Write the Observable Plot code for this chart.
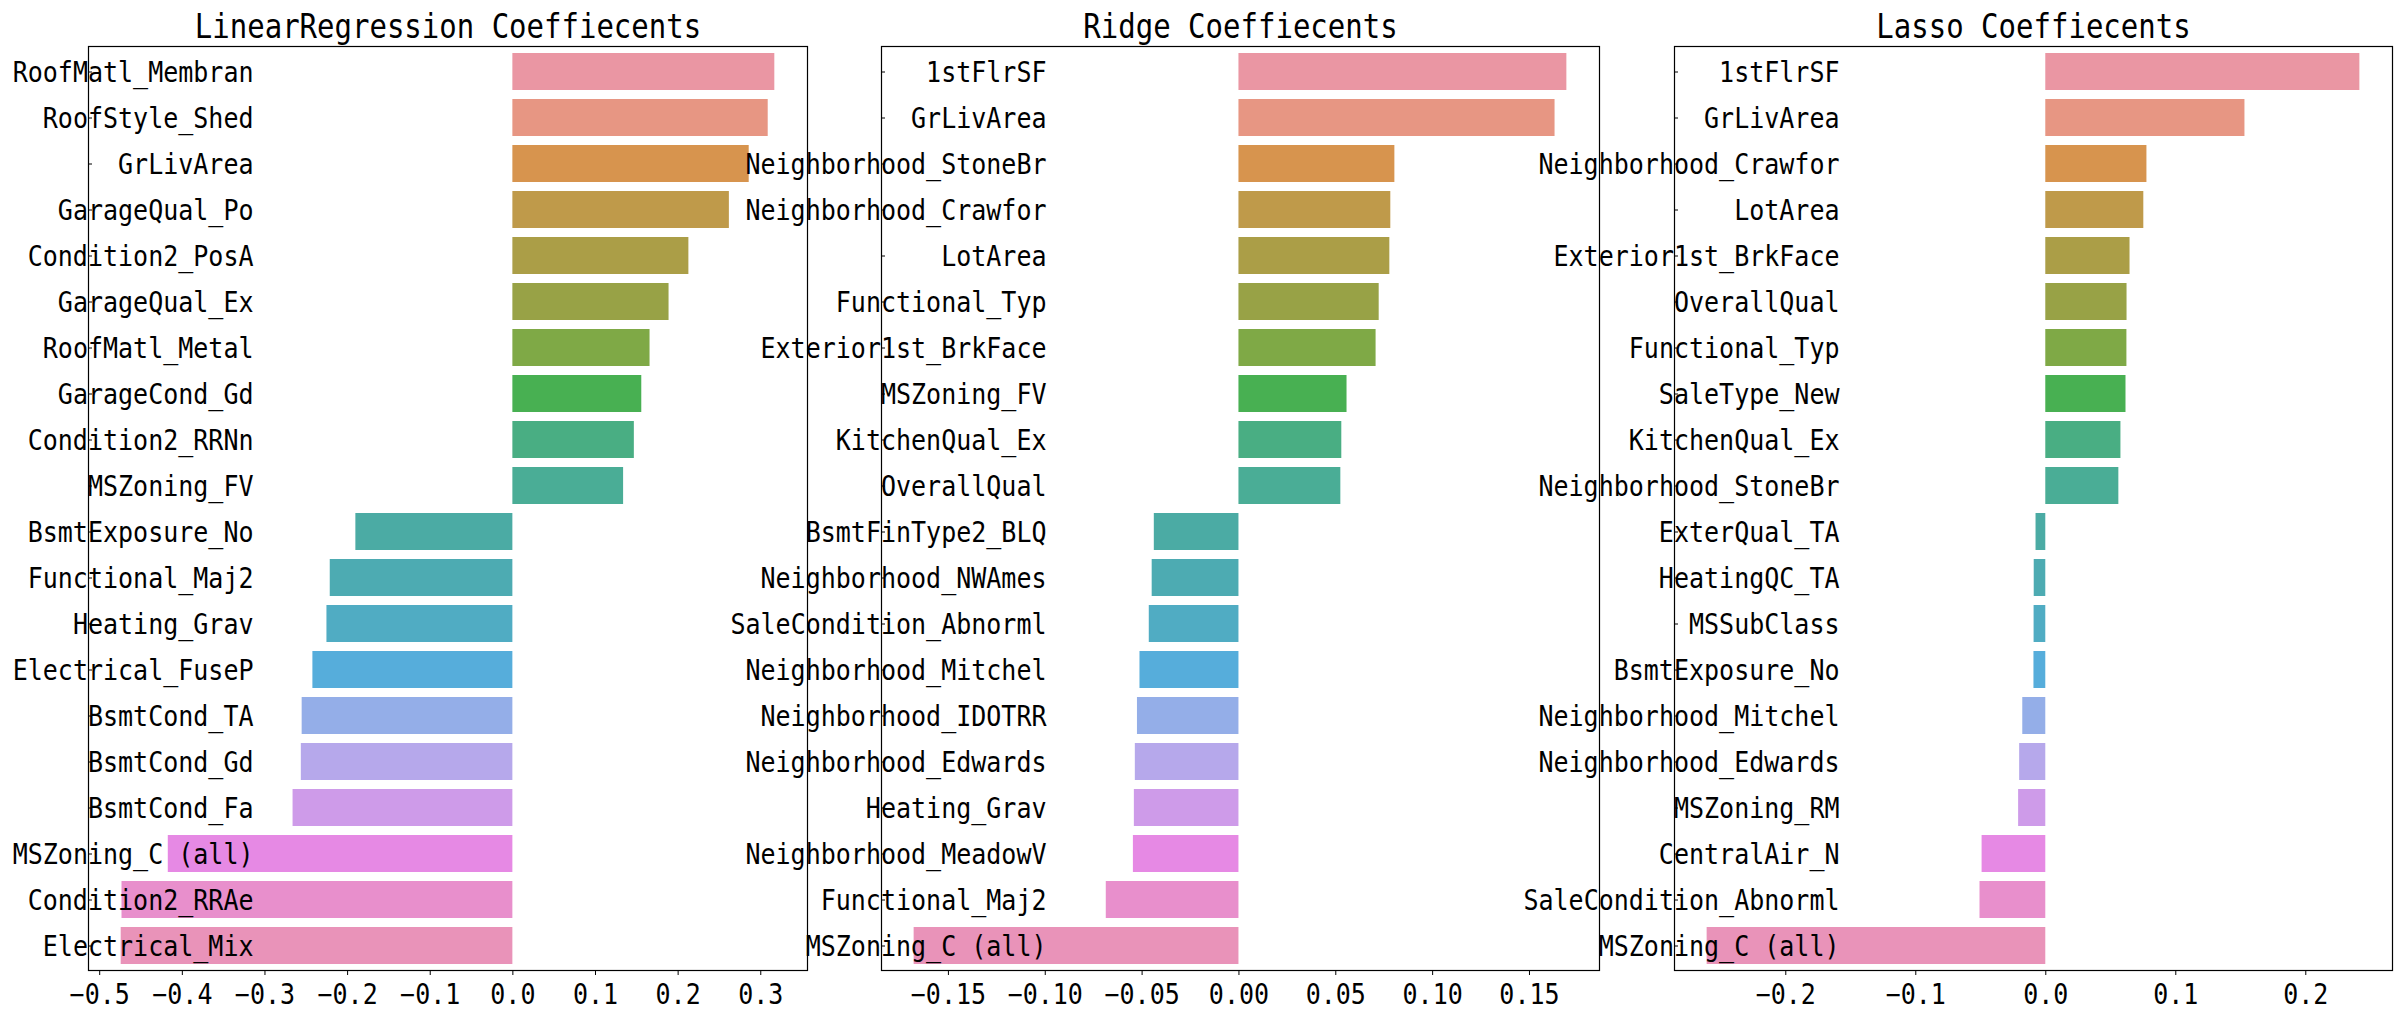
<!DOCTYPE html>
<html>
<head>
<meta charset="utf-8">
<script src="https://cdn.jsdelivr.net/npm/d3@7"></script>
<script src="https://cdn.jsdelivr.net/npm/@observablehq/plot@0.6"></script>
<style>
  body { margin: 0; background: #fff; }
  #wrap { position: relative; width: 2401px; height: 1018px; overflow: hidden; background: #fff; }
  #wrap svg { position: absolute; left: 0; top: 0; }
</style>
</head>
<body>
<div id="wrap"></div>
<script>
// ---------- data ----------
const lrTitle = "LinearRegression Coeffiecents";
const lrNames = ["RoofMatl_Membran","RoofStyle_Shed","GrLivArea","GarageQual_Po","Condition2_PosA",
  "GarageQual_Ex","RoofMatl_Metal","GarageCond_Gd","Condition2_RRNn","MSZoning_FV",
  "BsmtExposure_No","Functional_Maj2","Heating_Grav","Electrical_FuseP","BsmtCond_TA",
  "BsmtCond_Gd","BsmtCond_Fa","MSZoning_C (all)","Condition2_RRAe","Electrical_Mix"];
const lrValues = [0.317, 0.309, 0.286, 0.262, 0.213, 0.189, 0.166, 0.156, 0.147, 0.134,
  -0.190, -0.221, -0.225, -0.242, -0.255, -0.256, -0.266, -0.417, -0.473, -0.474];
const lrTicks = [-0.5, -0.4, -0.3, -0.2, -0.1, 0.0, 0.1, 0.2, 0.3];

const ridgeTitle = "Ridge Coeffiecents";
const ridgeNames = ["1stFlrSF","GrLivArea","Neighborhood_StoneBr","Neighborhood_Crawfor","LotArea",
  "Functional_Typ","Exterior1st_BrkFace","MSZoning_FV","KitchenQual_Ex","OverallQual",
  "BsmtFinType2_BLQ","Neighborhood_NWAmes","SaleCondition_Abnorml","Neighborhood_Mitchel","Neighborhood_IDOTRR",
  "Neighborhood_Edwards","Heating_Grav","Neighborhood_MeadowV","Functional_Maj2","MSZoning_C (all)"];
const ridgeValues = [0.1693, 0.1632, 0.0805, 0.0784, 0.0779, 0.0724, 0.0708, 0.0558, 0.0531, 0.0526,
  -0.0437, -0.0448, -0.0463, -0.0511, -0.0524, -0.0535, -0.0540, -0.0545, -0.0685, -0.1677];
const ridgeTicks = [-0.15, -0.10, -0.05, 0.00, 0.05, 0.10, 0.15];

const lassoTitle = "Lasso Coeffiecents";
const lassoNames = ["1stFlrSF","GrLivArea","Neighborhood_Crawfor","LotArea","Exterior1st_BrkFace",
  "OverallQual","Functional_Typ","SaleType_New","KitchenQual_Ex","Neighborhood_StoneBr",
  "ExterQual_TA","HeatingQC_TA","MSSubClass","BsmtExposure_No","Neighborhood_Mitchel",
  "Neighborhood_Edwards","MSZoning_RM","CentralAir_N","SaleCondition_Abnorml","MSZoning_C (all)"];
const lassoValues = [0.2416, 0.1532, 0.0778, 0.0754, 0.0648, 0.0625, 0.0624, 0.0617, 0.0578, 0.0562,
  -0.0075, -0.0089, -0.0090, -0.0091, -0.0177, -0.0201, -0.0209, -0.0490, -0.0506, -0.2605];
const lassoTicks = [-0.2, -0.1, 0.0, 0.1, 0.2];

// ---------- seaborn-like husl palette (l=.7), desaturated .75 ----------
function huslToRgb(H, S, L) {
  const m = [[3.2406, -1.5372, -0.4986], [-0.9689, 1.8758, 0.0415], [0.0557, -0.2040, 1.0570]];
  const refY = 1.0, refU = 0.19784, refV = 0.46834, kappa = 903.2963, eps = 0.0088564;
  function maxChroma(L, H) {
    const hr = H / 360 * 2 * Math.PI, sinH = Math.sin(hr), cosH = Math.cos(hr);
    const sub1 = Math.pow(L + 16, 3) / 1560896;
    const sub2 = sub1 > eps ? sub1 : L / kappa;
    let result = Infinity;
    for (const [m1, m2, m3] of m) {
      const top = (0.99915 * m1 + 1.05122 * m2 + 1.14460 * m3) * sub2;
      const rb = 0.86330 * m3 - 0.17266 * m2;
      const lb = 0.12949 * m3 - 0.38848 * m1;
      const bottom = (rb * sinH + lb * cosH) * sub2;
      for (const t of [0, 1]) {
        const C = L * (top - 1.05122 * t) / (bottom + 0.17266 * sinH * t);
        if (C > 0 && C < result) result = C;
      }
    }
    return result;
  }
  const C = maxChroma(L, H) / 100 * S;
  const hr = H / 360 * 2 * Math.PI;
  const U = C * Math.cos(hr), V = C * Math.sin(hr);
  const Yv = L > 8 ? refY * Math.pow((L + 16) / 116, 3) : refY * L / kappa;
  const varU = U / (13 * L) + refU, varV = V / (13 * L) + refV;
  const Y = Yv * refY;
  const X = -(9 * Y * varU) / ((varU - 4) * varV - varU * varV);
  const Z = (9 * Y - 15 * varV * Y - varV * X) / (3 * varV);
  return m.map(([a, b, c]) => {
    const v = a * X + b * Y + c * Z;
    const s = v <= 0.0031308 ? 12.92 * v : 1.055 * Math.pow(v, 1 / 2.4) - 0.055;
    return Math.min(1, Math.max(0, s));
  });
}
function palette(n) {
  const out = [];
  for (let i = 0; i < n; i++) {
    const h = ((i / n + 0.01) % 1) * 359;
    const [r, g, b] = huslToRgb(h, 0.9 * 99, 0.7 * 99);
    const c = d3.hsl(d3.rgb(r * 255, g * 255, b * 255));
    c.s *= 0.75;
    out.push(c.formatHex());
  }
  return out;
}
const colors = palette(20);

// ---------- drawing ----------
const W = 2401, H = 1018;
const FONT = "DejaVu Sans Mono";
function panel(title, names, values, ticks, fmt, left, right) {
  const rows = names.map((name, i) => ({name, value: values[i], color: colors[i]}));
  const lo = d3.min(values), hi = d3.max(values), pad = (hi - lo) * 0.05;
  const frameW = right - left;
  return Plot.plot({
    width: W, height: H,
    marginLeft: left, marginRight: W - right, marginTop: 46, marginBottom: 48,
    style: {fontFamily: FONT, fontSize: "25px", background: "transparent", overflow: "visible", color: "black"},
    x: {domain: [lo - pad, hi + pad]},
    y: {domain: names, paddingInner: 0.2, paddingOuter: 0.1},
    color: {type: "identity"},
    marks: [
      Plot.barX(rows, {x: "value", y: "name", fill: "color"}),
      Plot.tickY(rows, {y: "name", stroke: "black", strokeWidth: 1, insetRight: frameW - 4}),
      Plot.text(rows, {y: "name", text: "name", frameAnchor: "left", dx: 165, dy: 1, textAnchor: "end", fontSize: 25, fill: "black"}),
      Plot.frame({stroke: "black", strokeWidth: 1.2}),
      Plot.axisX({ticks, tickFormat: d3.format(fmt), tickSize: 5, tickPadding: 9, fontSize: 25, label: null, stroke: "black"}),
      Plot.axisY({ticks: [], label: null}),
      Plot.text([title], {frameAnchor: "top", lineAnchor: "bottom", dy: -9, fontSize: 29, fill: "black"})
    ]
  });
}
// Stretch glyphs vertically (the reference's lettering is slightly taller than
// plain DejaVu Sans Mono at the same advance width) while keeping the width.
function stretchText(svg, sizeFrom, sizeTo) {
  svg.querySelectorAll("text").forEach(t => {
    const g = t.closest("[font-size]");
    if (!g || +g.getAttribute("font-size") !== sizeFrom) return;
    const w = t.getComputedTextLength();
    t.style.fontSize = sizeTo + "px";
    t.setAttribute("textLength", w);
    t.setAttribute("lengthAdjust", "spacingAndGlyphs");
  });
}
const wrap = document.getElementById("wrap");
for (const [title, names, values, ticks, fmt, l, r] of [
  [lrTitle, lrNames, lrValues, lrTicks, ".1f", 88, 807],
  [ridgeTitle, ridgeNames, ridgeValues, ridgeTicks, ".2f", 881, 1599],
  [lassoTitle, lassoNames, lassoValues, lassoTicks, ".1f", 1674, 2392]
]) {
  const svg = panel(title, names, values, ticks, fmt, l, r);
  wrap.append(svg);
  stretchText(svg, 25, 27.5);
  stretchText(svg, 29, 33);
}
</script>
</body>
</html>
